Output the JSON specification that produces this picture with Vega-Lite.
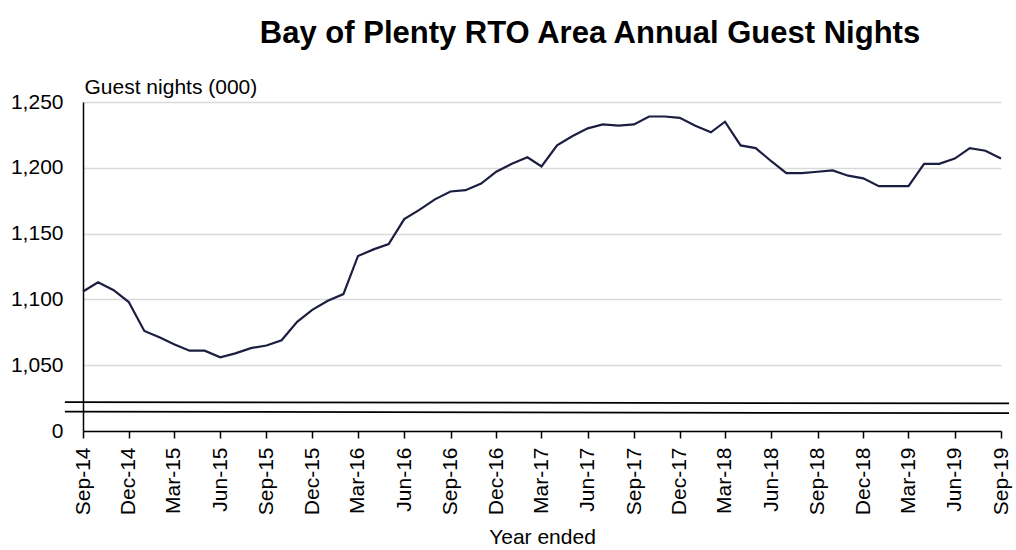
{
  "$schema": "https://vega.github.io/schema/vega-lite/v6.json",
  "width": 918,
  "height": 329,
  "autosize": {"type": "none"},
  "padding": {"left": 83, "top": 102, "right": 15, "bottom": 119},
  "background": "white",
  "config": {"font": "Liberation Sans", "view": {"stroke": null}},
  "title": {
    "text": "Bay of Plenty RTO Area Annual  Guest Nights",
    "fontSize": 31,
    "fontWeight": "bold",
    "color": "black",
    "anchor": "middle",
    "dx": 48,
    "baseline": "alphabetic",
    "offset": 2
  },
  "layer": [
    {
      "data": {
        "values": [
          {"month": "2014-09-01", "nights": 1106},
          {"month": "2014-10-01", "nights": 1113},
          {"month": "2014-11-01", "nights": 1107},
          {"month": "2014-12-01", "nights": 1098},
          {"month": "2015-01-01", "nights": 1076},
          {"month": "2015-02-01", "nights": 1071},
          {"month": "2015-03-01", "nights": 1066},
          {"month": "2015-04-01", "nights": 1061},
          {"month": "2015-05-01", "nights": 1061},
          {"month": "2015-06-01", "nights": 1056},
          {"month": "2015-07-01", "nights": 1059},
          {"month": "2015-08-01", "nights": 1063},
          {"month": "2015-09-01", "nights": 1065},
          {"month": "2015-10-01", "nights": 1069},
          {"month": "2015-11-01", "nights": 1083},
          {"month": "2015-12-01", "nights": 1092},
          {"month": "2016-01-01", "nights": 1099},
          {"month": "2016-02-01", "nights": 1104},
          {"month": "2016-03-01", "nights": 1133},
          {"month": "2016-04-01", "nights": 1138},
          {"month": "2016-05-01", "nights": 1142},
          {"month": "2016-06-01", "nights": 1161},
          {"month": "2016-07-01", "nights": 1168},
          {"month": "2016-08-01", "nights": 1176},
          {"month": "2016-09-01", "nights": 1182},
          {"month": "2016-10-01", "nights": 1183},
          {"month": "2016-11-01", "nights": 1188},
          {"month": "2016-12-01", "nights": 1197},
          {"month": "2017-01-01", "nights": 1203},
          {"month": "2017-02-01", "nights": 1208},
          {"month": "2017-03-01", "nights": 1201},
          {"month": "2017-04-01", "nights": 1217},
          {"month": "2017-05-01", "nights": 1224},
          {"month": "2017-06-01", "nights": 1230},
          {"month": "2017-07-01", "nights": 1233},
          {"month": "2017-08-01", "nights": 1232},
          {"month": "2017-09-01", "nights": 1233},
          {"month": "2017-10-01", "nights": 1239},
          {"month": "2017-11-01", "nights": 1239},
          {"month": "2017-12-01", "nights": 1238},
          {"month": "2018-01-01", "nights": 1232},
          {"month": "2018-02-01", "nights": 1227},
          {"month": "2018-03-01", "nights": 1235},
          {"month": "2018-04-01", "nights": 1217},
          {"month": "2018-05-01", "nights": 1215},
          {"month": "2018-06-01", "nights": 1205},
          {"month": "2018-07-01", "nights": 1196},
          {"month": "2018-08-01", "nights": 1196},
          {"month": "2018-09-01", "nights": 1197},
          {"month": "2018-10-01", "nights": 1198},
          {"month": "2018-11-01", "nights": 1194},
          {"month": "2018-12-01", "nights": 1192},
          {"month": "2019-01-01", "nights": 1186},
          {"month": "2019-02-01", "nights": 1186},
          {"month": "2019-03-01", "nights": 1186},
          {"month": "2019-04-01", "nights": 1203},
          {"month": "2019-05-01", "nights": 1203},
          {"month": "2019-06-01", "nights": 1207},
          {"month": "2019-07-01", "nights": 1215},
          {"month": "2019-08-01", "nights": 1213},
          {"month": "2019-09-01", "nights": 1207}
        ]
      },
      "mark": {"type": "line", "color": "#1b1e40", "strokeWidth": 2.2},
      "encoding": {
        "x": {
          "field": "month",
          "type": "temporal",
          "scale": {
            "type": "utc",
            "domain": [
              {"year": 2014, "month": 9, "date": 1, "utc": true},
              {"year": 2019, "month": 9, "date": 1, "utc": true}
            ]
          },
          "axis": {
            "title": "Year ended",
            "titleFontSize": 21,
            "titleFontWeight": "normal",
            "titleColor": "black",
            "titleBaseline": "alphabetic",
            "titleY": 112,
            "labelExpr": "utcFormat(datum.value, '%b-%y')",
            "values": [
              {"year": 2014, "month": 9, "date": 1, "utc": true},
              {"year": 2014, "month": 12, "date": 1, "utc": true},
              {"year": 2015, "month": 3, "date": 1, "utc": true},
              {"year": 2015, "month": 6, "date": 1, "utc": true},
              {"year": 2015, "month": 9, "date": 1, "utc": true},
              {"year": 2015, "month": 12, "date": 1, "utc": true},
              {"year": 2016, "month": 3, "date": 1, "utc": true},
              {"year": 2016, "month": 6, "date": 1, "utc": true},
              {"year": 2016, "month": 9, "date": 1, "utc": true},
              {"year": 2016, "month": 12, "date": 1, "utc": true},
              {"year": 2017, "month": 3, "date": 1, "utc": true},
              {"year": 2017, "month": 6, "date": 1, "utc": true},
              {"year": 2017, "month": 9, "date": 1, "utc": true},
              {"year": 2017, "month": 12, "date": 1, "utc": true},
              {"year": 2018, "month": 3, "date": 1, "utc": true},
              {"year": 2018, "month": 6, "date": 1, "utc": true},
              {"year": 2018, "month": 9, "date": 1, "utc": true},
              {"year": 2018, "month": 12, "date": 1, "utc": true},
              {"year": 2019, "month": 3, "date": 1, "utc": true},
              {"year": 2019, "month": 6, "date": 1, "utc": true},
              {"year": 2019, "month": 9, "date": 1, "utc": true}
            ],
            "labelAngle": -90,
            "labelFontSize": 21,
            "labelColor": "black",
            "labelPadding": 9,
            "labelOverlap": false,
            "labelFlush": false,
            "tickSize": 7,
            "tickColor": "black",
            "tickWidth": 1.5,
            "domainColor": "black",
            "domainWidth": 1.5,
            "grid": false
          }
        },
        "y": {
          "field": "nights",
          "type": "quantitative",
          "scale": {"domain": [1000, 1250], "zero": false, "nice": false},
          "axis": {
            "title": "Guest nights (000)",
            "titleAngle": 0,
            "titleAlign": "left",
            "titleBaseline": "alphabetic",
            "titleX": 1,
            "titleY": -9,
            "titleFontSize": 21,
            "titleFontWeight": "normal",
            "titleColor": "black",
            "values": [1000, 1050, 1100, 1150, 1200, 1250],
            "labelExpr": "datum.value == 1000 ? '0' : format(datum.value, ',')",
            "labelFontSize": 21,
            "labelColor": "black",
            "labelPadding": 20,
            "ticks": false,
            "tickSize": 0,
            "domainColor": "black",
            "domainWidth": 1.5,
            "grid": true,
            "gridColor": "#d9d9d9",
            "gridWidth": 1.5
          }
        }
      }
    },
    {
      "data": {
        "values": [
          {"start": "2014-07-27", "end": "2019-09-17", "left": 1022, "right": 1021},
          {"start": "2014-07-27", "end": "2019-09-17", "left": 1014.8, "right": 1013.5}
        ]
      },
      "mark": {"type": "rule", "color": "black", "strokeWidth": 1.75, "clip": false},
      "encoding": {
        "x": {"field": "start", "type": "temporal"},
        "x2": {"field": "end"},
        "y": {"field": "left", "type": "quantitative"},
        "y2": {"field": "right"}
      }
    }
  ]
}
